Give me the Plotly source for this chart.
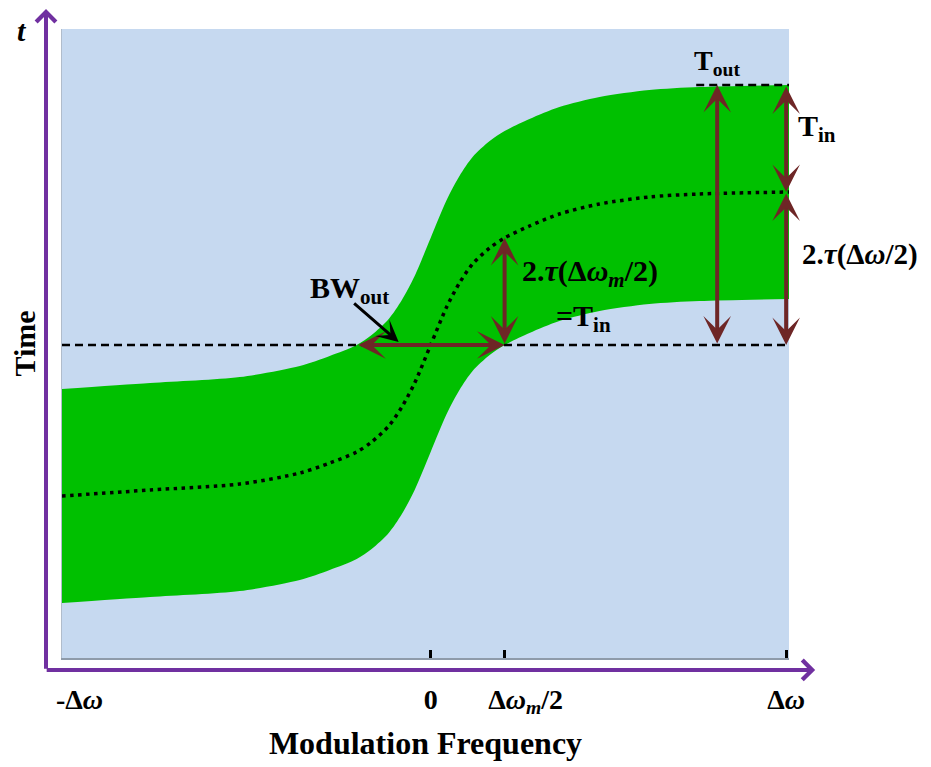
import plotly.graph_objects as go

# ---------------- data ----------------
# modulation frequency (units of Δω) and centre delay τ (time units)
FREQ = [-1.037, -0.789, -0.537, -0.368, -0.284, -0.208, -0.166, -0.118, -0.081, -0.045,
        0.0, 0.045, 0.081, 0.118, 0.166, 0.208, 0.278, 0.362, 0.475, 0.615, 0.756, 1.008]
CENTER = [-1.51, -1.45, -1.39, -1.28, -1.18, -1.07, -0.97, -0.81, -0.62, -0.38,
          0.0, 0.38, 0.62, 0.81, 0.97, 1.07, 1.19, 1.31, 1.41, 1.48, 1.51, 1.53]
T_IN = 2.14            # input pulse duration (band width)
TAU_MAX = 1.53         # delay at Δω
X_TOUT = 0.806         # position of the T_out arrow
X_EDGE = 1.0           # Δω
X_HALF = 0.208         # Δω_m/2

TICK_VALS = [-1.037, 0.0, 0.208, 1.0]
TICK_TEXT = ["-Δ<i>ω</i>", "0", "Δ<i>ω<sub>m</sub></i>/2", "Δ<i>ω</i>"]
TICK_PAD = [5, 0, 6, 0]   # labels sit slightly right of their ticks in the reference

BLUE = "#C6D9F0"
GREEN = "#00C000"
MAROON = "#6E2626"
PURPLE = "#7030A0"
FONT = "Liberation Serif"

upper = [c + T_IN / 2 for c in CENTER]
lower = [c - T_IN / 2 for c in CENTER]
t_out_top = TAU_MAX + T_IN / 2

fig = go.Figure()
fig.add_trace(go.Scatter(x=FREQ, y=lower, mode="lines",
                         line=dict(color=GREEN, width=0, shape="spline", smoothing=0.8), hoverinfo="skip"))
fig.add_trace(go.Scatter(x=FREQ, y=upper, mode="lines", fill="tonexty", fillcolor=GREEN,
                         line=dict(color=GREEN, width=0, shape="spline", smoothing=0.8), hoverinfo="skip"))
fig.add_trace(go.Scatter(x=FREQ, y=CENTER, mode="lines",
                         line=dict(color="black", width=3.5, dash="3.5px,4.5px", shape="spline", smoothing=0.8),
                         hoverinfo="skip"))

# dashed reference lines
fig.add_shape(type="line", xref="paper", yref="y", x0=0, x1=1, y0=0, y1=0,
              line=dict(color="black", width=2.5, dash="8px,5px"))
fig.add_shape(type="line", xref="x", yref="y", x0=0.747, x1=1.008, y0=t_out_top, y1=t_out_top,
              line=dict(color="black", width=2.5, dash="8px,5px"))


def dbl_arrow(x0, y0, x1, y1):
    fig.add_annotation(x=x1, y=y1, ax=x0, ay=y0, xref="x", yref="y", axref="x", ayref="y",
                       text="", showarrow=True, arrowhead=3, startarrowhead=3, arrowside="end+start",
                       arrowsize=1.15, startarrowsize=1.15, arrowwidth=4, arrowcolor=MAROON)


dbl_arrow(X_TOUT, 0, X_TOUT, t_out_top)
dbl_arrow(X_EDGE, t_out_top, X_EDGE, TAU_MAX)
dbl_arrow(X_EDGE, TAU_MAX, X_EDGE, 0)
dbl_arrow(X_HALF, 0, X_HALF, T_IN / 2)
dbl_arrow(-X_HALF, 0, X_HALF, 0)

# BW_out pointer
fig.add_annotation(x=-0.09, y=0.03, xref="x", yref="y", ax=-46, ay=-40, text="", showarrow=True,
                   arrowhead=3, arrowsize=1.2, arrowwidth=3, arrowcolor="black")

# purple axes with arrow heads
fig.add_annotation(x=-0.022, y=1.041, xref="paper", yref="paper", ax=0, ay=667, text="",
                   showarrow=True, arrowhead=4, arrowsize=0.95, arrowwidth=4, arrowcolor=PURPLE)
fig.add_annotation(x=1.036, y=-0.019, xref="paper", yref="paper", ax=-770, ay=0, text="",
                   showarrow=True, arrowhead=4, arrowsize=0.95, arrowwidth=4, arrowcolor=PURPLE)


def label(x, y, txt, size=30, xref="x", yref="y"):
    fig.add_annotation(x=x, y=y, xref=xref, yref=yref, text="<b>" + txt + "</b>", showarrow=False,
                       xanchor="center", yanchor="middle",
                       font=dict(family=FONT, size=size, color="black"))


label(X_TOUT, 2.83, "T<sub>out</sub>", size=28)
label(1.038, 0.843, "T<sub>in</sub>", xref="paper", yref="paper")
label(1.098, 0.641, "2.<i>τ</i>(Δ<i>ω</i>/2)", size=29, xref="paper", yref="paper")
label(-0.228, 0.55, "BW<sub>out</sub>")
label(0.447, 0.72, "2.<i>τ</i>(Δ<i>ω<sub>m</sub></i>/2)")
label(0.43, 0.27, "=T<sub>in</sub>")
label(-0.055, 0.998, "<i>t</i>", size=30, xref="paper", yref="paper")

tick_labels = ["<b>" + "\u00a0" * p + t + "</b>" for t, p in zip(TICK_TEXT, TICK_PAD)]

# the page adds an 8px body margin, so the figure is 8px smaller and margins shifted
fig.update_layout(
    width=923, height=759,
    margin=dict(l=54, r=142, t=21, b=109),
    paper_bgcolor="white", plot_bgcolor=BLUE,
    showlegend=False,
    font=dict(family=FONT, color="black"),
)
fig.update_xaxes(range=[-1.037, 1.008], tickvals=TICK_VALS, ticktext=tick_labels,
                 ticks="inside", ticklen=8, tickwidth=3, tickcolor="black", automargin=False,
                 showgrid=False, zeroline=False, showline=True, linecolor="#8E9BAA", linewidth=2,
                 tickfont=dict(family=FONT, size=28, color="black"), ticklabelstandoff=15,
                 title=dict(text="<b>Modulation Frequency</b>", font=dict(family=FONT, size=32), standoff=14))
fig.update_yaxes(range=[-3.13, 3.16], showticklabels=False, ticks="", showgrid=False, zeroline=False,
                 showline=True, linecolor="#B0BCCB", linewidth=1, automargin=False,
                 title=dict(text="<b>Time</b>", font=dict(family=FONT, size=30), standoff=22))

fig.write_html("out.html")
